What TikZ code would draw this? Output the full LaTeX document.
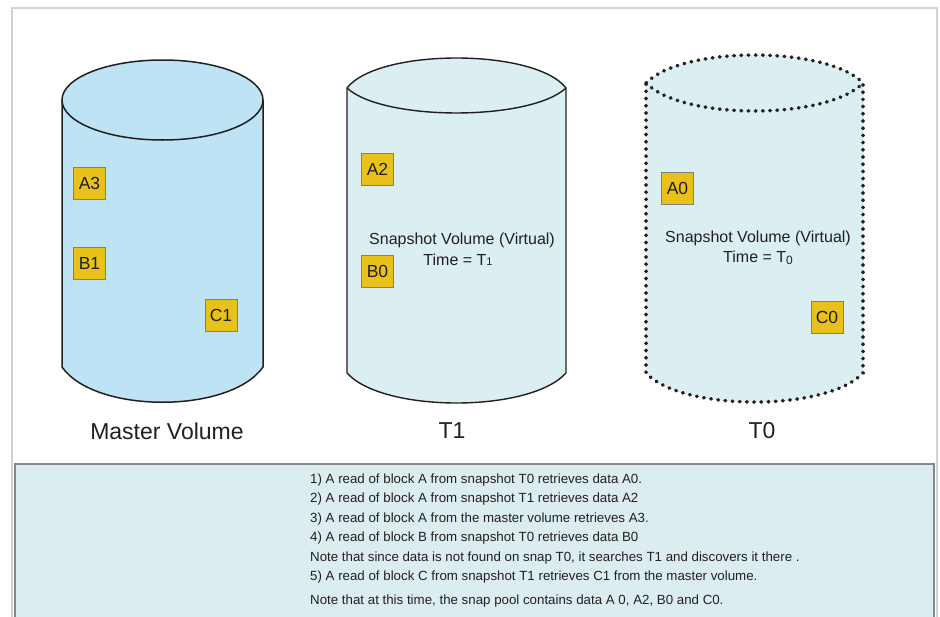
\documentclass[tikz,border=0pt]{standalone}
\usepackage{fontspec}
\setmainfont{Liberation Sans}
\definecolor{masterfill}{HTML}{BDE3F4}
\definecolor{snapfill}{HTML}{DBEEF1}
\definecolor{panelfill}{HTML}{DCEDF0}
\definecolor{panelline}{HTML}{878787}
\definecolor{frameline}{HTML}{D2D2D2}
\definecolor{boxfill}{HTML}{E8C21A}
\definecolor{boxline}{HTML}{7F7F7F}
\definecolor{ink}{HTML}{231F20}
\tikzset{
  blk/.style={draw=boxline, fill=boxfill, line width=0.9pt, minimum width=32pt, minimum height=32pt, inner sep=0pt, text=ink, font=\fontsize{17.5}{17.5}\selectfont},
  cyl/.style={draw=ink, line width=1.5pt, line join=round},
  dotcyl/.style={draw=ink, line width=3.6pt, line cap=round, dash pattern=on 0.6pt off 6.6pt},
  vlabel/.style={text=ink, font=\fontsize{23}{26}\selectfont, inner sep=0pt},
  midtext/.style={text=ink, font=\fontsize{16}{19}\selectfont, inner sep=0pt},
  note/.style={text=ink, font=\fontsize{13.3}{15}\selectfont, inner sep=0pt, anchor=west}
}
\begin{document}
\begin{tikzpicture}[x=1pt,y=-1pt]
\useasboundingbox (0,0) rectangle (940,616);
% outer frame
\draw[frameline, line width=2pt] (12,8) rectangle (936.5,630);
% bottom panel
\draw[panelline, fill=panelfill, line width=2pt] (15,463.5) rectangle (933.5,630);

% Master volume
\fill[masterfill] (62,100) -- (62,367) .. controls (95,414) and (230,414) .. (263,367) -- (263,100) -- cycle;
\fill[masterfill] (162.5,100) ellipse [x radius=100.5, y radius=40];
\draw[cyl] (62,100) -- (62,367) .. controls (95,414) and (230,414) .. (263,367) -- (263,100);
\draw[cyl] (162.5,100) ellipse [x radius=100.5, y radius=40];

% T1 snapshot
\path[fill=snapfill] (347,88) .. controls (378,48) and (535,48) .. (566,88) -- (566,373) .. controls (530,413) and (383,413) .. (347,373) -- cycle;
\draw[cyl, line width=1.4pt] (347,88) .. controls (378,48) and (535,48) .. (566,88) -- (566,373) .. controls (530,413) and (383,413) .. (347,373) -- cycle;
\draw[cyl, line width=1.4pt] (347,88) .. controls (383,121.3) and (530,121.3) .. (566,88);

% T0 snapshot
\path[fill=snapfill] (646,83) .. controls (682,45.7) and (827,45.7) .. (863,83) -- (863,373) .. controls (827,411.7) and (682,411.7) .. (646,373) -- cycle;
\draw[dotcyl] (646,83) .. controls (682,45.7) and (827,45.7) .. (863,83) -- (863,373) .. controls (827,411.7) and (682,411.7) .. (646,373) -- cycle;
\draw[dotcyl] (646,83) .. controls (682,120.3) and (827,120.3) .. (863,83);

% blocks
\node[blk] (a3) at (89.5,183) {A3};
\node[blk] (b1) at (89.5,263) {B1};
\node[blk] (c1) at (221,315.5) {C1};
\node[blk] (a2) at (377.5,169.5) {A2};
\node[blk] (b0) at (377.5,271) {B0};
\node[blk] (a0) at (677.5,188) {A0};
\node[blk] (c0) at (827,317) {C0};

% inner texts
\node[midtext] (s1) at (462,240) {Snapshot Volume (Virtual)};
\node[midtext] (t1) at (458,260) {Time = T{\fontsize{11}{11}\selectfont 1}};
\node[midtext] (s0) at (758,238) {Snapshot Volume (Virtual)};
\node[midtext] (t0) at (758,258) {Time = T\raisebox{-2.5pt}{\fontsize{12}{12}\selectfont 0}};

% labels
\node[vlabel] (lm) at (167,431) {Master Volume};
\node[vlabel] (l1) at (452,431) {T1};
\node[vlabel] (l0) at (762,431) {T0};

% notes
\node[note] (n1) at (310,480) {1) A read of block A from snapshot T0 retrieves data A0.};
\node[note] (n2) at (310,499.5) {2) A read of block A from snapshot T1 retrieves data A2};
\node[note] (n3) at (310,519) {3) A read of block A from the master volume retrieves A3.};
\node[note] (n4) at (310,538.5) {4) A read of block B from snapshot T0 retrieves data B0};
\node[note] (n5) at (310,558) {Note that since data is not found on snap T0, it searches T1 and discovers it there .};
\node[note] (n6) at (310,577.5) {5) A read of block C from snapshot T1 retrieves C1 from the master volume.};
\node[note] (n7) at (310,601) {Note that at this time, the snap pool contains data A 0, A2, B0 and C0.};
\end{tikzpicture}
\end{document}
